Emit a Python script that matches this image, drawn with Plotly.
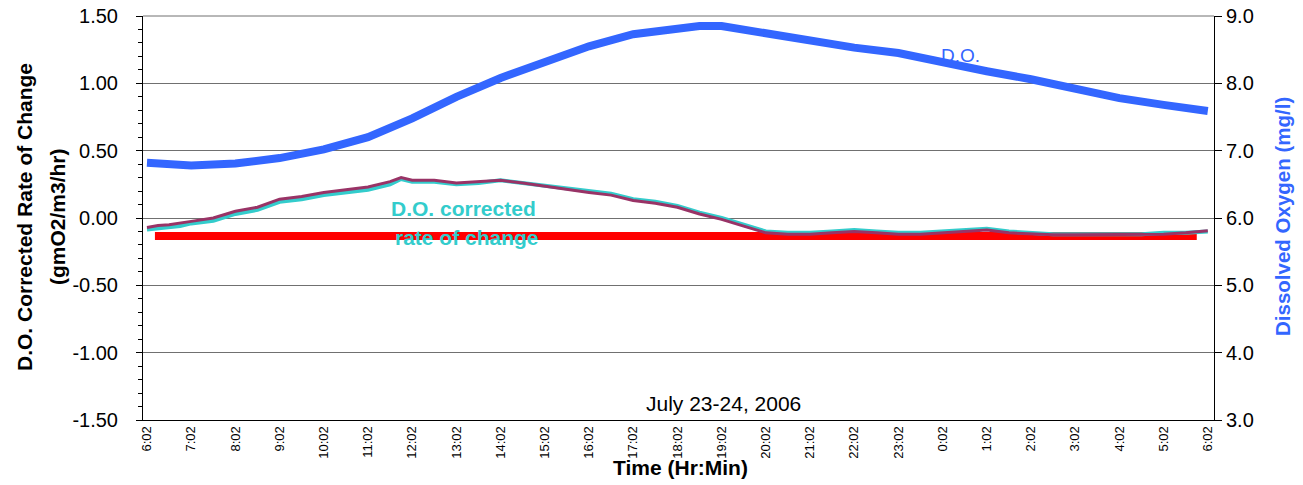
import plotly.graph_objects as go

# ---- data (hours after 6:02 on July 23) ----
rate_hours = [0, 0.25, 0.5, 0.75, 1.0, 1.5, 2.0, 2.5, 3.0, 3.5, 4.0, 4.5, 5.0, 5.5, 5.75,
              6.0, 6.5, 7.0, 7.5, 8.0, 8.5, 9.0, 9.5, 10.0, 10.5, 11.0, 11.5, 12.0, 12.5,
              13.0, 13.5, 14.0, 14.5, 15.0, 15.5, 16.0, 16.5, 17.0, 17.5, 18.0, 18.5, 19.0,
              19.5, 20.0, 20.5, 21.0, 21.5, 22.0, 22.5, 23.0, 23.5, 24.0]
corrected_rate = [-0.085, -0.075, -0.07, -0.06, -0.04, -0.02, 0.03, 0.06, 0.12, 0.14, 0.17,
                  0.19, 0.21, 0.25, 0.29, 0.27, 0.27, 0.25, 0.26, 0.28, 0.26, 0.24, 0.22,
                  0.20, 0.18, 0.14, 0.12, 0.09, 0.04, 0.00, -0.05, -0.10, -0.11, -0.11,
                  -0.10, -0.09, -0.10, -0.11, -0.11, -0.10, -0.09, -0.08, -0.10, -0.11,
                  -0.12, -0.12, -0.12, -0.12, -0.12, -0.11, -0.11, -0.10]
raw_rate = [-0.07, -0.055, -0.05, -0.04, -0.025, 0.0, 0.05, 0.08, 0.14, 0.16, 0.19, 0.21,
            0.23, 0.27, 0.30, 0.28, 0.28, 0.26, 0.27, 0.28, 0.26, 0.235, 0.21, 0.19, 0.17,
            0.13, 0.11, 0.08, 0.03, -0.01, -0.06, -0.11, -0.12, -0.12, -0.11, -0.10, -0.11,
            -0.12, -0.12, -0.11, -0.10, -0.09, -0.11, -0.12, -0.125, -0.125, -0.125, -0.125,
            -0.125, -0.12, -0.11, -0.095]

do_hours = [0, 1, 2, 3, 4, 5, 6, 7, 8, 9, 10, 11, 12, 12.5, 13, 14, 15, 16, 17, 18, 19,
            20, 21, 22, 23, 24]
do_values = [6.82, 6.78, 6.81, 6.89, 7.02, 7.20, 7.48, 7.80, 8.08, 8.33, 8.55, 8.73, 8.83,
             8.85, 8.85, 8.74, 8.63, 8.53, 8.45, 8.30, 8.18, 8.06, 7.92, 7.78, 7.68, 7.59]

ref_hours = [0.18, 23.75]
ref_values = [-0.133, -0.133]

x_tick_vals = list(range(0, 25))
x_tick_text = ["6:02", "7:02", "8:02", "9:02", "10:02", "11:02", "12:02", "13:02", "14:02",
               "15:02", "16:02", "17:02", "18:02", "19:02", "20:02", "21:02", "22:02",
               "23:02", "0:02", "1:02", "2:02", "3:02", "4:02", "5:02", "6:02"]
left_tick_vals = [-1.5, -1.0, -0.5, 0.0, 0.5, 1.0, 1.5]
left_tick_text = ["-1.50", "-1.00", "-0.50", "0.00", "0.50", "1.00", "1.50"]
right_tick_vals = [3, 4, 5, 6, 7, 8, 9]
right_tick_text = ["3.0", "4.0", "5.0", "6.0", "7.0", "8.0", "9.0"]

FONT = "Liberation Sans, Arial, sans-serif"
BLUE = "#3366FF"
CYAN = "#33CCCC"
PLUM = "#993366"
GRID = "#707070"

# plot area in window pixels (body margin removed by post_script)
PL, PR, PT, PB = 143, 1214, 16, 420
W, H = 1303, 485

fig = go.Figure()
fig.add_trace(go.Scatter(x=ref_hours, y=ref_values, mode="lines",
                         line=dict(color="#FF0000", width=8), yaxis="y"))
fig.add_trace(go.Scatter(x=rate_hours, y=corrected_rate, mode="lines",
                         line=dict(color=CYAN, width=4), yaxis="y"))
fig.add_trace(go.Scatter(x=rate_hours, y=raw_rate, mode="lines",
                         line=dict(color=PLUM, width=3), yaxis="y"))
fig.add_trace(go.Scatter(x=do_hours, y=do_values, mode="lines",
                         line=dict(color=BLUE, width=8), yaxis="y2"))

fig.update_layout(
    width=W, height=H,
    margin=dict(l=PL, r=W - PR, t=PT, b=H - PB, autoexpand=False),
    paper_bgcolor="white", plot_bgcolor="white",
    showlegend=False,
    font=dict(family=FONT, size=20, color="black"),
    xaxis=dict(range=[-0.09, 24.14], tickmode="array", tickvals=x_tick_vals,
               ticktext=x_tick_text, tickangle=-90, tickfont=dict(size=13),
               showgrid=False, zeroline=False, showline=True, linecolor="black",
               linewidth=1, ticks="", automargin=False),
    yaxis=dict(range=[-1.5, 1.5], tickmode="array", tickvals=left_tick_vals,
               ticktext=left_tick_text, showgrid=True, gridcolor=GRID, gridwidth=1,
               zeroline=False, showline=True, linecolor="black", linewidth=1,
               ticks="outside", ticklen=6, tickcolor="black", ticklabelstandoff=14,
               ticklabeloverflow="allow",
               minor=dict(dtick=0.1, tick0=0, ticks="outside", ticklen=4,
                          tickcolor="black", showgrid=False),
               tickfont=dict(size=20), automargin=False),
    yaxis2=dict(range=[3, 9], overlaying="y", side="right", tickmode="array",
                tickvals=right_tick_vals, ticktext=right_tick_text, showgrid=False,
                zeroline=False, showline=True, linecolor="black", linewidth=1,
                ticks="outside", ticklen=7, tickcolor="black", tickfont=dict(size=20),
                ticklabeloverflow="allow", automargin=False),
)

# top border of the plot area (gridline at 1.50)
fig.add_shape(type="line", xref="paper", yref="paper", x0=0, x1=1, y0=1, y1=1,
              line=dict(color=GRID, width=1), layer="below")

annotations = [
    dict(text="<b>D.O. Corrected Rate of Change</b>", x=24, y=217,
         textangle=-90, font=dict(size=21, color="black")),
    dict(text="<b>(gmO2/m3/hr)</b>", x=57, y=217,
         textangle=-90, font=dict(size=21, color="black")),
    dict(text="<b>Dissolved Oxygen (mg/l)</b>", x=1282, y=217, textangle=-90,
         font=dict(size=20.5, color=BLUE)),
    dict(text="<b>Time (Hr:Min)</b>", x=680, y=467, font=dict(size=21, color="black")),
    dict(text="July 23-24, 2006", x=723, y=403, font=dict(size=21, color="black")),
    dict(text="D.O.", x=960, y=56, font=dict(size=19, color=BLUE)),
    dict(text="<b>D.O. corrected</b>", x=463, y=208, font=dict(size=21, color=CYAN)),
    dict(text="<b>rate of change</b>", x=467, y=237, font=dict(size=21, color=CYAN)),
]
for a in annotations:
    fig.add_annotation(xref="paper", yref="paper",
                       x=(a["x"] - PL) / (PR - PL),
                       y=1 - (a["y"] - PT) / (PB - PT),
                       xanchor="center", yanchor="middle", showarrow=False,
                       text=a["text"], textangle=a.get("textangle", 0), font=a["font"])

fig.write_html("out.html",
               config={"displayModeBar": False},
               post_script="document.body.style.margin='0';"
                           "document.body.style.overflow='hidden';")
